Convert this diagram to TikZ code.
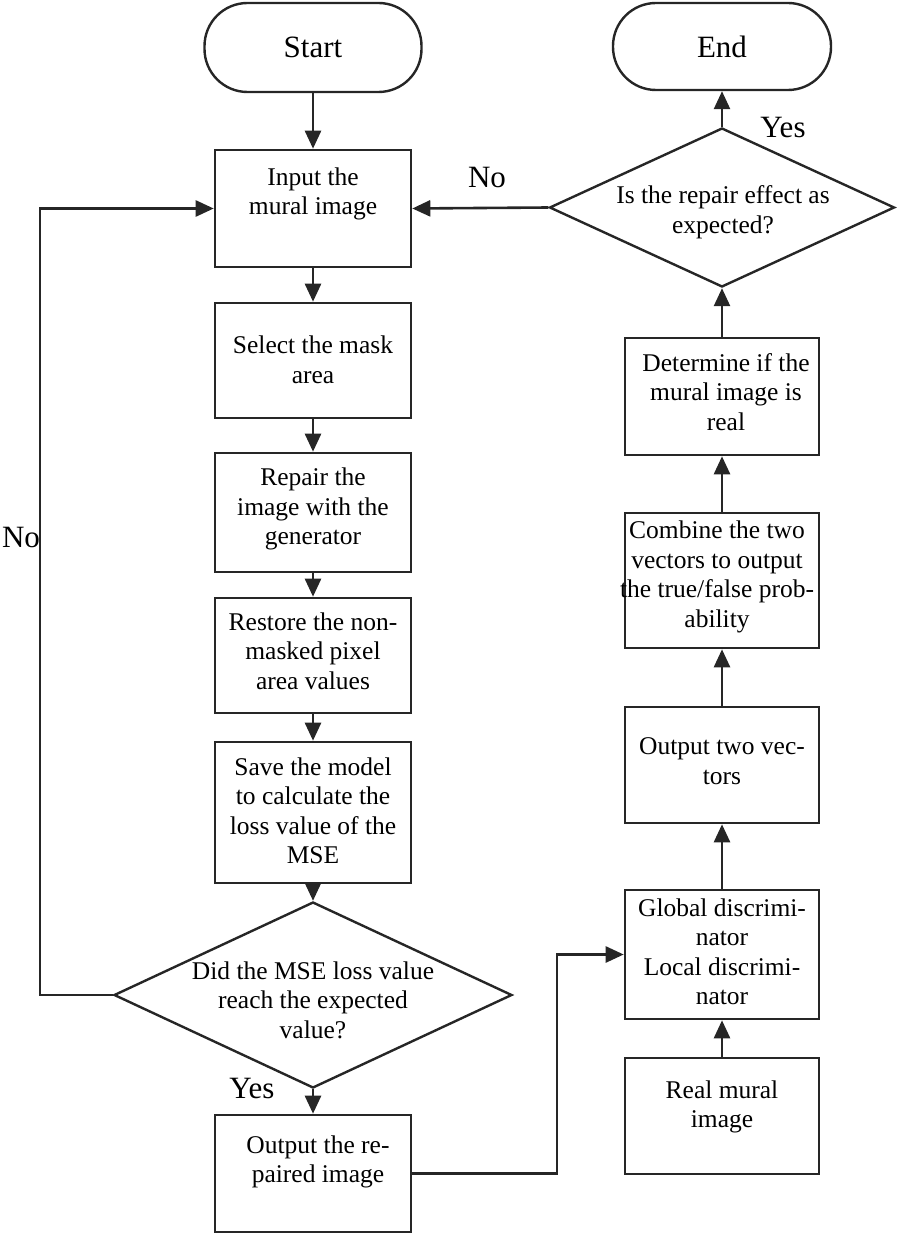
\documentclass[tikz,border=0pt]{standalone}
\usepackage{fontspec}
\setmainfont{Liberation Serif}
\usetikzlibrary{arrows.meta,shapes.geometric}
\begin{document}
\begin{tikzpicture}[x=1pt,y=-1pt,
  box/.style={draw=black!85, line width=2.6pt, rectangle, inner sep=0pt},
  lbox/.style={box, minimum width=196pt},
  rbox/.style={box, minimum width=194pt},
  term/.style={draw=black!85, line width=2.4pt, rectangle, rounded corners=43pt, inner sep=0pt, font=\fontsize{31}{34}\selectfont},
  dia/.style={draw=black!85, line width=2.4pt, diamond, inner sep=0pt},
  txt/.style={align=center, font=\fontsize{25.5}{29.5}\selectfont, inner sep=0pt},
  big/.style={font=\fontsize{31}{34}\selectfont, inner sep=0pt},
  arr/.style={line width=2.6pt, draw=black!85, -{Triangle[length=18pt,width=16pt]}},
]
\useasboundingbox (0,0) rectangle (898,1238);

% terminators
\node[term, minimum width=217pt, minimum height=89pt] (start) at (313,47.5) {Start};
\node[term, minimum width=218pt, minimum height=87pt] (end) at (722,46.5) {End};

% left column boxes
\node[lbox, minimum height=117pt] (in) at (313,208.5) {};
\node[txt] (tin) at (313,194) {Input the\\mural image};
\node[lbox, minimum height=115pt] (sel) at (313,360.5) {};
\node[txt] (tsel) at (313,360) {Select the mask\\area};
\node[lbox, minimum height=119pt] (rep) at (313,512.5) {};
\node[txt] (trep) at (313,509) {Repair the\\image with the\\generator};
\node[lbox, minimum height=115pt] (rest) at (313,655.5) {};
\node[txt] (trest) at (313,651) {Restore the non-\\masked pixel\\area values};
\node[lbox, minimum height=141pt] (save) at (313,812.5) {};
\node[txt] (tsave) at (313,811) {Save the model\\to calculate the\\loss value of the\\MSE};
\node[dia, minimum width=398pt, minimum height=186pt] (d2) at (313,995) {};
\node[txt] (td2) at (313,1000) {Did the MSE loss value\\reach the expected\\value?};
\node[lbox, minimum height=117pt] (out) at (313,1173.5) {};
\node[txt] (tout) at (318,1162) {Output the re-\\paired image};

% right column boxes
\node[dia, minimum width=345pt, minimum height=159pt] (d1) at (722,207.5) {};
\node[txt] (td1) at (723,212) {Is the repair effect as\\expected?};
\node[rbox, minimum height=117pt] (det) at (722,396.5) {};
\node[txt] (tdet) at (726,392) {Determine if the\\mural image is\\real};
\node[rbox, minimum height=135pt] (comb) at (722,580.5) {};
\node[txt] (tcomb) at (717,577) {Combine the two\\vectors to output\\the true/false prob-\\ability};
\node[rbox, minimum height=116pt] (two) at (722,765) {};
\node[txt] (ttwo) at (722,761) {Output two vec-\\tors};
\node[rbox, minimum height=129pt] (glob) at (722,954.5) {};
\node[txt] (tglob) at (722,952) {Global discrimi-\\nator\\Local discrimi-\\nator};
\node[rbox, minimum height=116pt] (real) at (722,1116) {};
\node[txt] (treal) at (722,1107) {Real mural\\image};

% labels
\node[big] (no1) at (487,178) {No};
\node[big] (no2) at (21,537) {No};
\node[big] (yes1) at (783,128) {Yes};
\node[big] (yes2) at (252,1088) {Yes};

% helper coordinates
\coordinate (lx) at (40,0);
\coordinate (jx) at (557,0);

% connectors left column
\draw[arr] (start.south) -- (in.north);
\draw[arr] (in.south) -- (sel.north);
\draw[arr] (sel.south) -- (rep.north);
\draw[arr] (rep.south) -- (rest.north);
\draw[arr] (rest.south) -- (save.north);
\draw[arr] (save.south) -- (d2.north);
\draw[arr] (d2.south) -- (out.north);
\draw[arr] (d2.west) -| (lx |- in.west) -- (in.west);
\draw[arr] (out.east) -| (jx |- glob.west) -- (glob.west);

% connectors right column
\draw[arr] (real.north) -- (glob.south);
\draw[arr] (glob.north) -- (two.south);
\draw[arr] (two.north) -- (comb.south);
\draw[arr] (comb.north) -- (det.south);
\draw[arr] (det.north) -- (d1.south);
\draw[arr] (d1.north) -- (end.south);
\draw[arr] (d1.west) -- (in.east);
\end{tikzpicture}
\end{document}
